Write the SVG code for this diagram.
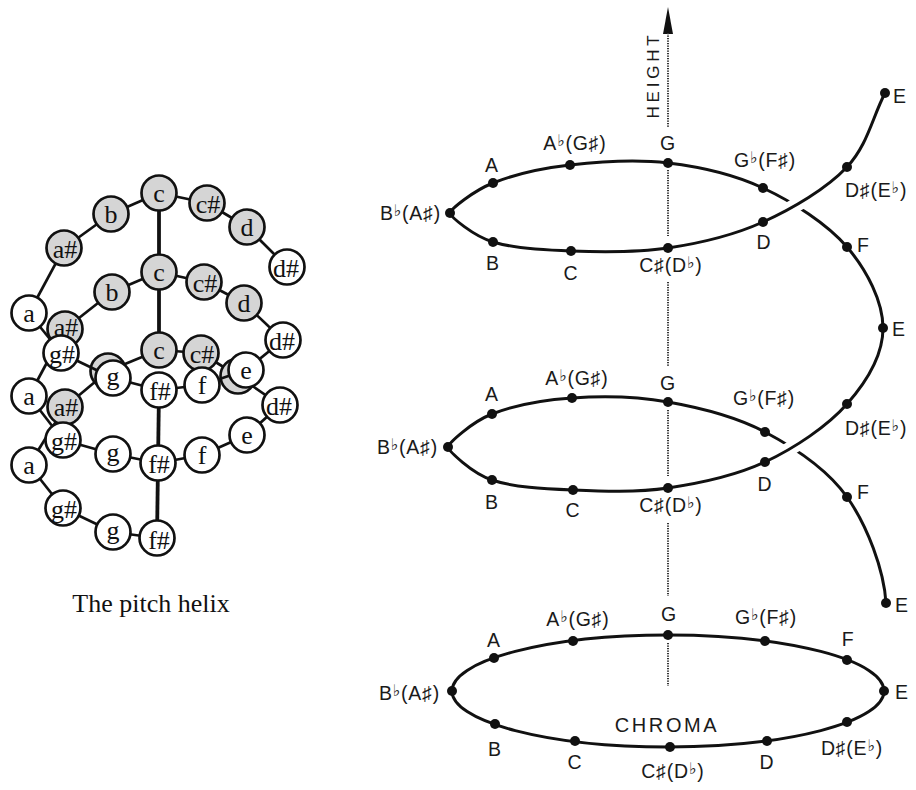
<svg xmlns="http://www.w3.org/2000/svg" width="916" height="790" viewBox="0 0 916 790">
  <style>
    .bk { fill: #d5d5d5; stroke: #111; stroke-width: 2.7; }
    .fr { fill: #fff; stroke: #111; stroke-width: 2.7; }
    .lk { stroke: #111; stroke-width: 2.7; fill: none; }
    .ax { stroke: #111; stroke-width: 3.8; fill: none; }
    .nl { font-family: "Liberation Serif", "Times New Roman", serif; font-size: 26px; text-anchor: middle; fill: #111; }
    .cap { font-family: "Liberation Serif", "Times New Roman", serif; font-size: 26px; text-anchor: middle; fill: #111; }
    .hx { stroke: #111; stroke-width: 3; fill: none; stroke-linecap: round; }
    .halo { stroke: #fff; stroke-width: 14; fill: none; stroke-linecap: butt; }
    .dot { fill: #111; }
    .ht { stroke: #333; stroke-width: 2; stroke-dasharray: 1.2 1.3; fill: none; }
    .lb { font-family: "Liberation Sans", "DejaVu Sans", sans-serif; font-size: 19.5px; letter-spacing: 0.8px; fill: #1a1a1a; }
    .m { text-anchor: middle; }
    .e { text-anchor: end; }
    .fl { font-size: 16px; }
    .big { font-family: "Liberation Sans", "DejaVu Sans", sans-serif; fill: #1a1a1a; text-anchor: middle; }
  </style>

  <rect width="916" height="790" fill="#fff"/>

  <!-- ===== Left: pitch helix of circles ===== -->
  <g id="left-connectors">
    <!-- back segments -->
    <g class="lk">
      <line x1="29" y1="465" x2="65" y2="407"/>
      <line x1="65" y1="407" x2="108" y2="371"/>
      <line x1="108" y1="371" x2="159" y2="350"/>
      <line x1="159" y1="350" x2="201" y2="353"/>
      <line x1="201" y1="353" x2="238" y2="376"/>
      <line x1="238" y1="376" x2="280" y2="405"/>
      <line x1="29" y1="396" x2="65" y2="329"/>
      <line x1="65" y1="329" x2="112" y2="292"/>
      <line x1="112" y1="292" x2="159" y2="272"/>
      <line x1="159" y1="272" x2="204" y2="282"/>
      <line x1="204" y1="282" x2="244" y2="303"/>
      <line x1="244" y1="303" x2="283" y2="340"/>
      <line x1="29" y1="313" x2="64" y2="248"/>
      <line x1="64" y1="248" x2="111" y2="214"/>
      <line x1="111" y1="214" x2="159" y2="193"/>
      <line x1="159" y1="193" x2="207" y2="203"/>
      <line x1="207" y1="203" x2="247" y2="227"/>
      <line x1="247" y1="227" x2="287" y2="267"/>
    </g>
    <line class="ax" x1="159" y1="193" x2="159" y2="350"/>
  </g>

  <g id="left-back-nodes">
    <g id="n-b3"><circle class="bk" cx="108" cy="371" r="17.5"/></g>
    <g id="n-d3"><circle class="bk" cx="238" cy="376" r="17.5"/></g>
    <g id="n-as3"><circle class="bk" cx="65" cy="407" r="17.5"/><text class="nl" x="66" y="416">a#</text></g>
    <g id="n-c3"><circle class="bk" cx="159" cy="350" r="17.5"/><text class="nl" x="159" y="359">c</text></g>
    <g id="n-cs3"><circle class="bk" cx="201" cy="353" r="17.5"/><text class="nl" x="202" y="363">c#</text></g>
    <g id="n-as2"><circle class="bk" cx="65" cy="329" r="17.5"/><text class="nl" x="66" y="336">a#</text></g>
    <g id="n-b2"><circle class="bk" cx="112" cy="292" r="17.5"/><text class="nl" x="112" y="301">b</text></g>
    <g id="n-c2"><circle class="bk" cx="159" cy="272" r="17.5"/><text class="nl" x="159" y="281">c</text></g>
    <g id="n-cs2"><circle class="bk" cx="204" cy="282" r="17.5"/><text class="nl" x="205" y="292">c#</text></g>
    <g id="n-d2"><circle class="bk" cx="244" cy="303" r="17.5"/><text class="nl" x="244" y="312">d</text></g>
    <g id="n-as1"><circle class="bk" cx="64" cy="248" r="17.5"/><text class="nl" x="65" y="258">a#</text></g>
    <g id="n-b1"><circle class="bk" cx="111" cy="214" r="17.5"/><text class="nl" x="111" y="223">b</text></g>
    <g id="n-c1"><circle class="bk" cx="159" cy="193" r="17.5"/><text class="nl" x="159" y="202">c</text></g>
    <g id="n-cs1"><circle class="bk" cx="207" cy="203" r="17.5"/><text class="nl" x="208" y="213">c#</text></g>
    <g id="n-d1"><circle class="bk" cx="247" cy="227" r="17.5"/><text class="nl" x="247" y="236">d</text></g>
  </g>

  <g id="left-front-connectors">
    <g class="lk">
      <line x1="157" y1="538" x2="113" y2="532"/>
      <line x1="113" y1="532" x2="63" y2="508"/>
      <line x1="63" y1="508" x2="29" y2="465"/>
      <line x1="280" y1="405" x2="247" y2="435"/>
      <line x1="247" y1="435" x2="202" y2="455"/>
      <line x1="202" y1="455" x2="158" y2="463"/>
      <line x1="158" y1="463" x2="113" y2="454"/>
      <line x1="113" y1="454" x2="63" y2="440"/>
      <line x1="63" y1="440" x2="29" y2="396"/>
      <line x1="283" y1="340" x2="246" y2="370"/>
      <line x1="246" y1="370" x2="202" y2="385"/>
      <line x1="202" y1="385" x2="159" y2="390"/>
      <line x1="159" y1="390" x2="113" y2="378"/>
      <line x1="113" y1="378" x2="61" y2="353"/>
      <line x1="61" y1="353" x2="29" y2="313"/>
    </g>
    <line class="ax" x1="159" y1="390" x2="157" y2="538"/>
  </g>

  <g id="left-front-nodes">
    <g id="n-ds1"><circle class="fr" cx="287" cy="267" r="17.5"/><text class="nl" x="286" y="277">d#</text></g>
    <g id="n-a1"><circle class="fr" cx="29" cy="313" r="17.5"/><text class="nl" x="29" y="322">a</text></g>
    <g id="n-gs1"><circle class="fr" cx="61" cy="353" r="17.5"/><text class="nl" x="62" y="363">g#</text></g>
    <g id="n-g1"><circle class="fr" cx="113" cy="378" r="17.5"/><text class="nl" x="113" y="385">g</text></g>
    <g id="n-fs1"><circle class="fr" cx="159" cy="390" r="17.5"/><text class="nl" x="160" y="400">f#</text></g>
    <g id="n-f1"><circle class="fr" cx="202" cy="385" r="17.5"/><text class="nl" x="202" y="394">f</text></g>
    <g id="n-e1"><circle class="fr" cx="246" cy="370" r="17.5"/><text class="nl" x="246" y="379">e</text></g>
    <g id="n-ds2"><circle class="fr" cx="283" cy="340" r="17.5"/><text class="nl" x="282" y="350">d#</text></g>
    <g id="n-a2"><circle class="fr" cx="29" cy="396" r="17.5"/><text class="nl" x="29" y="405">a</text></g>
    <g id="n-gs2"><circle class="fr" cx="63" cy="440" r="17.5"/><text class="nl" x="64" y="450">g#</text></g>
    <g id="n-g2"><circle class="fr" cx="113" cy="454" r="17.5"/><text class="nl" x="113" y="461">g</text></g>
    <g id="n-fs2"><circle class="fr" cx="158" cy="463" r="17.5"/><text class="nl" x="159" y="473">f#</text></g>
    <g id="n-f2"><circle class="fr" cx="202" cy="455" r="17.5"/><text class="nl" x="202" y="464">f</text></g>
    <g id="n-e2"><circle class="fr" cx="247" cy="435" r="17.5"/><text class="nl" x="247" y="444">e</text></g>
    <g id="n-ds3"><circle class="fr" cx="280" cy="405" r="17.5"/><text class="nl" x="279" y="415">d#</text></g>
    <g id="n-a3"><circle class="fr" cx="29" cy="465" r="17.5"/><text class="nl" x="29" y="474">a</text></g>
    <g id="n-gs3"><circle class="fr" cx="63" cy="508" r="17.5"/><text class="nl" x="64" y="518">g#</text></g>
    <g id="n-g3"><circle class="fr" cx="113" cy="532" r="17.5"/><text class="nl" x="113" y="539">g</text></g>
    <g id="n-fs3"><circle class="fr" cx="157" cy="538" r="17.5"/><text class="nl" x="159" y="549">f#</text></g>
  </g>

  <text class="cap" x="151" y="612">The pitch helix</text>

  <!-- ===== Right: height / chroma helix ===== -->
  <g id="height-axis">
    <polygon points="668,7 663,34 673,34" fill="#111"/>
    <g class="ht">
      <line x1="668" y1="33" x2="668" y2="128"/>
      <line x1="668" y1="170" x2="668" y2="236"/>
      <line x1="668" y1="282" x2="668" y2="366"/>
      <line x1="668" y1="410" x2="668" y2="476"/>
      <line x1="668" y1="523" x2="668" y2="596"/>
      <line x1="668" y1="643" x2="668" y2="686"/>
    </g>
    <text class="big" font-size="17" letter-spacing="3.8" transform="translate(659,75) rotate(-90)">HEIGHT</text>
  </g>

  <g id="helix-connectors">
    <path id="spiral" class="hx" d="M885,93 C872.3,117.7 867.3,145.5 847,167 C826.7,188.5 792.8,208.5 763,222 C733.2,235.5 700,243.2 668,248 C636,252.8 600.2,252 571,251 C541.8,250 513.2,248.3 493,242 C472.8,235.7 451,217 450,213 C451,209 473,191 493,183 C513,175 540.8,168.3 570,165 C599.2,161.7 635.8,159.2 668,163 C700.2,166.8 733.2,174 763,188 C792.8,202 827,223.7 847,247 C867,270.3 883,301.8 883,328 C883,354.2 866.7,381.7 847,404 C827.3,426.3 794.8,448 765,462 C735.2,476 700,483.3 668,488 C636,492.7 602.3,491.3 573,490 C543.7,488.7 512.8,487.2 492,480 C471.2,472.8 449,451 448,447 C449,443 471.3,422.2 492,414 C512.7,405.8 542.7,400 572,398 C601.3,396 635.8,396.3 668,402 C700.2,407.7 735.2,416.2 765,432 C794.8,447.8 826.8,468.5 847,497 C867.2,525.5 884,570 886,603"/>
    <!-- front strands pass over the back strands -->
    <path class="halo" d="M847,167 C826.7,188.5 792.8,208.5 763,222"/>
    <path class="hx" d="M847,167 C826.7,188.5 792.8,208.5 763,222"/>
    <path class="halo" d="M847,404 C827.3,426.3 794.8,448 765,462"/>
    <path class="hx" d="M847,404 C827.3,426.3 794.8,448 765,462"/>
    <ellipse id="chroma-ring" class="hx" cx="668" cy="691" rx="216" ry="56"/>
  </g>

  <g id="turn-top">
    <g class="dot">
      <circle cx="885" cy="93" r="5"/><circle cx="847" cy="167" r="5"/><circle cx="763" cy="222" r="5"/>
      <circle cx="668" cy="248" r="5"/><circle cx="571" cy="251" r="5"/><circle cx="493" cy="242" r="5"/>
      <circle cx="450" cy="213" r="5"/><circle cx="493" cy="183" r="5"/><circle cx="570" cy="165" r="5"/>
      <circle cx="668" cy="163" r="5"/><circle cx="763" cy="188" r="5"/><circle cx="847" cy="247" r="5"/>
    </g>
    <text class="lb" x="893" y="103">E</text>
    <text class="lb" x="845" y="197">D♯(E<tspan class="fl" dy="-4">♭</tspan><tspan dy="4">)</tspan></text>
    <text class="lb m" x="764" y="249">D</text>
    <text class="lb m" x="671" y="272">C♯(D<tspan class="fl" dy="-4">♭</tspan><tspan dy="4">)</tspan></text>
    <text class="lb m" x="571" y="280">C</text>
    <text class="lb m" x="493" y="270">B</text>
    <text class="lb e" x="441" y="220">B<tspan class="fl" dy="-4">♭</tspan><tspan dy="4">(A♯)</tspan></text>
    <text class="lb m" x="492" y="172">A</text>
    <text class="lb m" x="575" y="150">A<tspan class="fl" dy="-4">♭</tspan><tspan dy="4">(G♯)</tspan></text>
    <text class="lb m" x="668" y="150">G</text>
    <text class="lb m" x="765" y="167">G<tspan class="fl" dy="-4">♭</tspan><tspan dy="4">(F♯)</tspan></text>
    <text class="lb" x="857" y="252">F</text>
  </g>

  <g id="turn-middle">
    <g class="dot">
      <circle cx="883" cy="328" r="5"/><circle cx="847" cy="404" r="5"/><circle cx="765" cy="462" r="5"/>
      <circle cx="668" cy="488" r="5"/><circle cx="573" cy="490" r="5"/><circle cx="492" cy="480" r="5"/>
      <circle cx="448" cy="447" r="5"/><circle cx="492" cy="414" r="5"/><circle cx="572" cy="398" r="5"/>
      <circle cx="668" cy="402" r="5"/><circle cx="765" cy="432" r="5"/><circle cx="847" cy="497" r="5"/>
      <circle cx="886" cy="603" r="5"/>
    </g>
    <text class="lb" x="892" y="336">E</text>
    <text class="lb" x="845" y="435">D♯(E<tspan class="fl" dy="-4">♭</tspan><tspan dy="4">)</tspan></text>
    <text class="lb m" x="765" y="491">D</text>
    <text class="lb m" x="671" y="512">C♯(D<tspan class="fl" dy="-4">♭</tspan><tspan dy="4">)</tspan></text>
    <text class="lb m" x="573" y="517">C</text>
    <text class="lb m" x="492" y="509">B</text>
    <text class="lb e" x="438" y="454">B<tspan class="fl" dy="-4">♭</tspan><tspan dy="4">(A♯)</tspan></text>
    <text class="lb m" x="492" y="401">A</text>
    <text class="lb m" x="577" y="385">A<tspan class="fl" dy="-4">♭</tspan><tspan dy="4">(G♯)</tspan></text>
    <text class="lb m" x="668" y="390">G</text>
    <text class="lb m" x="764" y="405">G<tspan class="fl" dy="-4">♭</tspan><tspan dy="4">(F♯)</tspan></text>
    <text class="lb" x="857" y="499">F</text>
    <text class="lb" x="895" y="612">E</text>
  </g>

  <g id="turn-bottom">
    <g class="dot">
      <circle cx="452" cy="691" r="5"/><circle cx="494" cy="658" r="5"/><circle cx="573" cy="641" r="5"/>
      <circle cx="668" cy="635" r="5"/><circle cx="765" cy="641" r="5"/><circle cx="847" cy="660" r="5"/>
      <circle cx="884" cy="691" r="5"/><circle cx="847" cy="722" r="5"/><circle cx="767" cy="741" r="5"/>
      <circle cx="670" cy="747" r="5"/><circle cx="575" cy="741" r="5"/><circle cx="495" cy="724" r="5"/>
    </g>
    <text class="lb e" x="440" y="700">B<tspan class="fl" dy="-4">♭</tspan><tspan dy="4">(A♯)</tspan></text>
    <text class="lb m" x="494" y="647">A</text>
    <text class="lb m" x="578" y="626">A<tspan class="fl" dy="-4">♭</tspan><tspan dy="4">(G♯)</tspan></text>
    <text class="lb m" x="669" y="621">G</text>
    <text class="lb m" x="766" y="624">G<tspan class="fl" dy="-4">♭</tspan><tspan dy="4">(F♯)</tspan></text>
    <text class="lb m" x="848" y="646">F</text>
    <text class="lb" x="895" y="699">E</text>
    <text class="lb m" x="852" y="755">D♯(E<tspan class="fl" dy="-4">♭</tspan><tspan dy="4">)</tspan></text>
    <text class="lb m" x="767" y="769">D</text>
    <text class="lb m" x="673" y="778">C♯(D<tspan class="fl" dy="-4">♭</tspan><tspan dy="4">)</tspan></text>
    <text class="lb m" x="575" y="769">C</text>
    <text class="lb m" x="495" y="756">B</text>
    <text class="big" font-size="20" letter-spacing="2.6" x="667" y="732">CHROMA</text>
  </g>
</svg>
